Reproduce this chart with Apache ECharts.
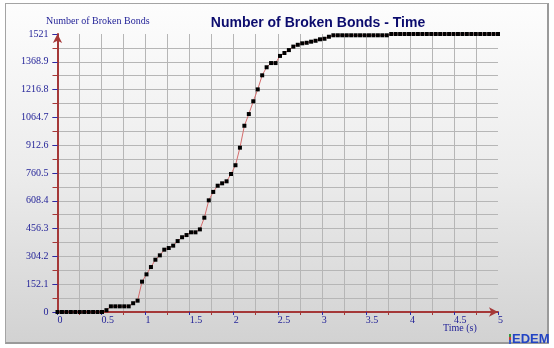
<!DOCTYPE html>
<html>
<head>
<meta charset="utf-8">
<script src="https://cdn.jsdelivr.net/npm/echarts@6/dist/echarts.min.js"></script>
<style>
  html, body { margin: 0; padding: 0; background: #ffffff; }
  #wrap { position: relative; width: 554px; height: 348px; }
  #frame { position: absolute; left: 5px; top: 3px; width: 541px; height: 338px;
           border: 1px solid #a4a4a4; border-right: 2px solid #9a9a9a; border-bottom: 2px solid #9a9a9a;
           background: linear-gradient(to bottom, #fdfdfd 0%, #ececec 50%, #d2d2d2 100%); }
  #chart { position: absolute; left: 0; top: 0; width: 554px; height: 348px; }
</style>
</head>
<body>
<div id="wrap"><div id="frame"></div><div id="chart"></div></div>
<script>
// ---- data ----
const chartTitle = 'Number of Broken Bonds - Time';
const yName = 'Number of Broken Bonds';
const xName = 'Time (s)';
const timeStep = 5 / 99;        // sampling interval of the saved time steps (s)
const brokenBonds = [
  0, 0, 0, 0, 0, 0, 0, 0, 0, 0,
  0, 10, 31, 31, 31, 31, 31, 48, 62, 166,
  206, 246, 286, 310, 341, 350, 363, 388, 409, 421,
  436, 436, 452, 516, 611, 657, 691, 704, 715, 755,
  803, 899, 1019, 1083, 1153, 1218, 1295, 1339, 1362, 1362,
  1401, 1417, 1433, 1452, 1462, 1470, 1473, 1479, 1484, 1492,
  1495, 1506, 1514, 1514, 1514, 1514, 1514, 1514, 1514, 1514,
  1514, 1514, 1514, 1514, 1514, 1521, 1521, 1521, 1521, 1521,
  1521, 1521, 1521, 1521, 1521, 1521, 1521, 1521, 1521, 1521,
  1521, 1521, 1521, 1521, 1521, 1521, 1521, 1521, 1521, 1521
];
const xTickLabels = ['0', '0.5', '1', '1.5', '2', '2.5', '3', '3.5', '4', '4.5', '5'];
const yTickLabels = ['0', '152.1', '304.2', '456.3', '608.4', '760.5', '912.6', '1064.7', '1216.8', '1368.9', '1521'];

const X_MAX = 5, Y_MAX = 1521;
const xMajor = 0.5, xMinor = 0.25;
const yMajor = 152.1, yMinor = 76.05;

const axisRed = '#a53838';
const tickBlue = '#2a2aa8';
const labelBlue = '#1e1e96';
const gridGray = '#b6b6b6';
const serif = '"Liberation Serif", "DejaVu Serif", serif';

const chart = echarts.init(document.getElementById('chart'), null, { renderer: 'canvas' });

const option = {
  animation: false,
  backgroundColor: 'transparent',
  grid: { left: 57.5, right: 56, top: 34, bottom: 36, containLabel: false },
  xAxis: [
    {
      type: 'value', min: 0, max: X_MAX, interval: xMinor,
      axisLine: { show: true, onZero: false, lineStyle: { color: axisRed, width: 2 },
                  symbol: ['none', 'arrow'], symbolSize: [7, 9], symbolOffset: [0, 0] },
      axisTick: { show: true, length: 3, lineStyle: { color: axisRed, width: 1 } },
      axisLabel: { show: false },
      splitLine: { show: true, showMinLine: false, showMaxLine: false, lineStyle: { color: gridGray, width: 1 } }
    },
    {
      type: 'value', min: 0, max: X_MAX, interval: xMajor, position: 'bottom',
      axisLine: { show: false },
      axisTick: { show: true, length: 3, lineStyle: { color: tickBlue, width: 1 } },
      axisLabel: {
        show: true, margin: 3, align: 'left', color: labelBlue, fontFamily: serif, fontSize: 10,
        showMinLabel: true, showMaxLabel: true,
        formatter: v => xTickLabels[Math.round(v / xMajor)]
      },
      splitLine: { show: false }
    }
  ],
  yAxis: [
    {
      type: 'value', min: 0, max: Y_MAX, interval: yMinor,
      axisLine: { show: true, onZero: false, lineStyle: { color: axisRed, width: 2 },
                  symbol: ['none', 'arrow'], symbolSize: [7, 9] },
      axisTick: { show: true, length: 5, lineStyle: { color: axisRed, width: 1 } },
      axisLabel: { show: false },
      splitLine: { show: true, showMinLine: false, showMaxLine: false, lineStyle: { color: gridGray, width: 1 } }
    },
    {
      type: 'value', min: 0, max: Y_MAX, interval: yMajor, position: 'left',
      axisLine: { show: false },
      axisTick: { show: true, length: 5, lineStyle: { color: tickBlue, width: 1 } },
      axisLabel: {
        show: true, margin: 9, color: labelBlue, fontFamily: serif, fontSize: 10,
        verticalAlign: 'middle', padding: [0, 0, 6, 0],
        showMinLabel: true, showMaxLabel: true,
        formatter: v => yTickLabels[Math.round(v / yMajor)]
      },
      splitLine: { show: false }
    }
  ],
  series: [{
    type: 'line',
    xAxisIndex: 0, yAxisIndex: 0,
    data: brokenBonds.map((v, i) => [i * timeStep, v]),
    symbol: 'rect', symbolSize: 4, showSymbol: true, showAllSymbol: true,
    itemStyle: { color: '#000000' },
    lineStyle: { color: '#d46c6c', width: 1 },
    clip: false, z: 5
  }],
  graphic: [
    { type: 'text', x: 318, y: 23, z: 10,
      style: { text: chartTitle, fill: '#0c0c6e', font: 'bold 14px "Liberation Sans", Arial, sans-serif',
               textAlign: 'center', textVerticalAlign: 'middle' } },
    { type: 'text', x: 46, y: 21, z: 10,
      style: { text: yName, fill: labelBlue, font: '10px "Liberation Serif", serif',
               textAlign: 'left', textVerticalAlign: 'middle' } },
    { type: 'text', x: 443, y: 328, z: 10,
      style: { text: xName, fill: labelBlue, font: '10px "Liberation Serif", serif',
               textAlign: 'left', textVerticalAlign: 'middle' } },
    { type: 'rect', shape: { x: 509, y: 334, width: 2, height: 3 }, style: { fill: '#3a9a3a' }, z: 10 },
    { type: 'rect', shape: { x: 509, y: 337, width: 2, height: 3 }, style: { fill: '#c83a3a' }, z: 10 },
    { type: 'rect', shape: { x: 509, y: 340, width: 2, height: 4 }, style: { fill: '#3a5ac8' }, z: 10 },
    { type: 'text', x: 512, y: 339.5, z: 10,
      style: { text: 'EDEM', fill: '#2244c4', font: 'bold 13px "Liberation Sans", Arial, sans-serif',
               textAlign: 'left', textVerticalAlign: 'middle' } }
  ]
};
chart.setOption(option);
</script>
</body>
</html>
